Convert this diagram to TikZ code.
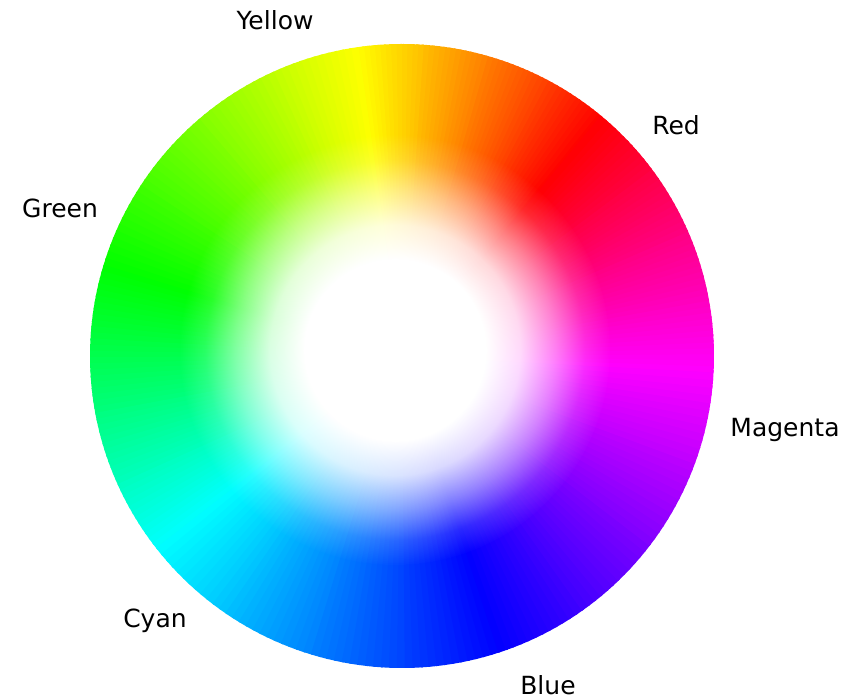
\documentclass[tikz,border=0pt]{standalone}
\usepackage{fontspec}
\setmainfont{DejaVu Sans}
\usetikzlibrary{fadings}
% pure RGB primaries and secondaries
\definecolor{hRed}{rgb}{1,0,0}
\definecolor{hYellow}{rgb}{1,1,0}
\definecolor{hGreen}{rgb}{0,1,0}
\definecolor{hCyan}{rgb}{0,1,1}
\definecolor{hBlue}{rgb}{0,0,1}
\definecolor{hMagenta}{rgb}{1,0,1}
% soft white centre
\pgfdeclareradialshading{coreshade}{\pgfpointorigin}{color(0bp)=(white); color(10.5bp)=(white); color(14.5bp)=(white!85!black); color(18.5bp)=(white!50!black); color(22bp)=(white!16!black); color(25bp)=(black); color(50bp)=(black)}
\pgfdeclarefading{corefade}{\pgfuseshading{coreshade}}
\begin{document}
\begin{tikzpicture}[
  x=1pt, y=1pt,
  lbl/.style={font=\fontsize{25}{30}\selectfont, anchor=base, inner sep=0pt}
]

% Canvas
\useasboundingbox (0,0) rectangle (858,700);
\fill[white] (0,0) rectangle (858,700);

% Wheel centre and radius
\def\R{312}
\coordinate (hub) at (402,344);
\coordinate (core) at (395,350);

% Hue sectors (angle from/to, colour from/to)
\foreach \a/\b/\ca/\cb in {50/98/hRed/hYellow, 98/163/hYellow/hGreen,
    163/218/hGreen/hCyan, 218/288/hCyan/hBlue, 288/357/hBlue/hMagenta,
    357/410/hMagenta/hRed} {
  \foreach \i in {0,...,47} {
    \pgfmathsetmacro{\s}{\a+(\b-\a)*\i/48}
    \pgfmathsetmacro{\t}{\a+(\b-\a)*(\i+1)/48+0.4}
    \pgfmathtruncatemacro{\p}{100*(\i+0.5)/48}
    \fill[\cb!\p!\ca] (hub) -- ++(\s:\R) arc[start angle=\s, end angle=\t, radius=\R] -- cycle;
  }
}

% White core
\fill[white, path fading=corefade] (core) circle (215);

% Labels
\node[lbl] (yellow)  at (275,670) {Yellow};
\node[lbl] (red)     at (676,565) {Red};
\node[lbl] (green)   at (60,482)  {Green};
\node[lbl] (magenta) at (785,263) {Magenta};
\node[lbl] (cyan)    at (155,72)  {Cyan};
\node[lbl] (blue)    at (548,5)   {Blue};

\end{tikzpicture}
\end{document}
